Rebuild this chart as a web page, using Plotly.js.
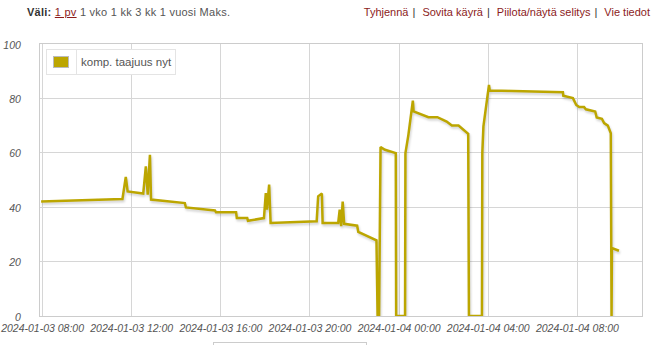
<!DOCTYPE html>
<html>
<head>
<meta charset="utf-8">
<script src="https://cdn.plot.ly/plotly-3.0.1.min.js"></script>
<style>
  html, body { margin:0; padding:0; background:#fff; }
  body { width:668px; height:345px; position:relative; overflow:hidden; font-family:"Liberation Sans", Arial, sans-serif; }
  #chart { position:absolute; left:0; top:0; width:668px; height:345px; }
  .hdr { position:absolute; top:5px; font-size:11px; line-height:14px; white-space:nowrap; }
  #hl { left:27px; color:#555; letter-spacing:0.25px; }
  #hl b { color:#333; }
  #hl u { color:#8c1c1c; }
  #hr { right:18px; color:#8c1c1c; }
  #hr span.sep { color:#333; margin:0 4px; }
  #legend { position:absolute; left:46px; top:49px; width:130px; height:26px; border:1px solid #e4e4e4; background:#fff; box-sizing:border-box; }
  #legend .sw { position:absolute; left:6px; top:6px; width:16px; height:12px; background:#BCA600; border:1px solid #bbb; box-sizing:border-box; }
  #legend .div { position:absolute; left:29px; top:0; width:1px; height:24px; background:#e4e4e4; }
  #legend .tx { position:absolute; left:34px; top:5px; font-size:11.5px; color:#555; line-height:14px; }
  #bot { position:absolute; left:213px; top:342px; width:154px; height:10px; border:1px solid #ccc; box-sizing:border-box; }
  .scatterlayer path.js-line { filter: drop-shadow(1px 2px 1px rgba(0,0,0,0.18)); }
</style>
</head>
<body>
<div id="chart"></div>
<div class="hdr" id="hl"><b>Väli:</b> <u>1 pv</u> 1 vko 1 kk 3 kk 1 vuosi Maks.</div>
<div class="hdr" id="hr">Tyhjennä<span class="sep">|</span> Sovita käyrä<span class="sep">|</span> Piilota/näytä selitys<span class="sep">|</span> Vie tiedot</div>
<div id="legend"><div class="sw"></div><div class="div"></div><div class="tx" id="legtx"></div></div>
<div id="bot"></div>
<script>
const seriesName = "komp. taajuus nyt";
const times = [
  "2024-01-03 07:56","2024-01-03 11:35","2024-01-03 11:44","2024-01-03 11:49","2024-01-03 12:31",
  "2024-01-03 12:38","2024-01-03 12:43","2024-01-03 12:49","2024-01-03 12:52","2024-01-03 14:23",
  "2024-01-03 14:26","2024-01-03 15:44","2024-01-03 15:47","2024-01-03 16:41","2024-01-03 16:43",
  "2024-01-03 17:11","2024-01-03 17:13","2024-01-03 17:56","2024-01-03 18:01","2024-01-03 18:04",
  "2024-01-03 18:10","2024-01-03 18:14","2024-01-03 20:18","2024-01-03 20:22","2024-01-03 20:32",
  "2024-01-03 20:34","2024-01-03 21:16","2024-01-03 21:20","2024-01-03 21:24","2024-01-03 21:28",
  "2024-01-03 21:32","2024-01-03 22:07","2024-01-03 22:10","2024-01-03 22:59","2024-01-03 23:02",
  "2024-01-03 23:06","2024-01-03 23:10","2024-01-03 23:22","2024-01-03 23:51","2024-01-03 23:52",
  "2024-01-04 00:16","2024-01-04 00:17","2024-01-04 00:25","2024-01-04 00:37","2024-01-04 00:39",
  "2024-01-04 01:19","2024-01-04 01:43","2024-01-04 02:08","2024-01-04 02:22","2024-01-04 02:40",
  "2024-01-04 03:06","2024-01-04 03:08","2024-01-04 03:43","2024-01-04 03:44","2024-01-04 03:47",
  "2024-01-04 04:02","2024-01-04 04:04","2024-01-04 07:21","2024-01-04 07:22","2024-01-04 07:48",
  "2024-01-04 07:57","2024-01-04 08:05","2024-01-04 08:18","2024-01-04 08:23","2024-01-04 08:48",
  "2024-01-04 08:52","2024-01-04 09:06","2024-01-04 09:12","2024-01-04 09:22","2024-01-04 09:30",
  "2024-01-04 09:32","2024-01-04 09:33","2024-01-04 09:52"
];
const values = [
  42.1,43.0,51.1,45.8,45.0,
  55.0,44.6,59.3,42.8,41.5,
  39.9,38.8,38.1,38.1,36.0,
  36.0,35.0,36.0,45.2,39.1,
  48.3,34.2,34.8,44.0,45.0,
  34.2,34.2,39.1,33.0,42.1,
  33.9,33.2,30.9,27.8,0,
  0,62.1,61.1,59.9,0,
  0,59.9,66.6,79.2,75.2,
  73.1,73.1,71.5,70.0,70.0,
  67.0,0,0,59.9,69.7,
  85.0,82.9,82.3,81.0,80.1,
  77.6,76.8,76.8,76.0,75.2,
  73.0,72.5,70.9,70.0,67.2,
  0,25.0,24.0
];
const xRange = ["2024-01-03 07:53","2024-01-04 10:54"];
const yRange = [0,100];

document.getElementById('legtx').textContent = seriesName;

const lineColor = "#BCA600";
const tickFont = {family:"Liberation Sans, Arial, sans-serif", size:10.5, color:"#555", style:"italic"};

Plotly.newPlot('chart', [{
  x: times, y: values, type:'scatter', mode:'lines', name: seriesName,
  line:{color:lineColor, width:2.5}, hoverinfo:'skip'
}], {
  width:668, height:345,
  margin:{l:40, r:26, t:44, b:28.5, pad:0},
  paper_bgcolor:'#fff', plot_bgcolor:'#fff',
  showlegend:false,
  xaxis:{
    type:'date', range:xRange,
    tick0:"2024-01-03 08:00", dtick:4*3600*1000,
    tickformat:"%Y-%m-%d %H:%M",
    showgrid:true, gridcolor:'#d6d6d6', gridwidth:1,
    showline:true, linecolor:'#cccccc', linewidth:1, mirror:true,
    zeroline:false, ticks:'', ticklabelstandoff:2, tickfont:tickFont, fixedrange:true
  },
  yaxis:{
    range:yRange, dtick:20, tick0:0,
    showgrid:true, gridcolor:'#d6d6d6', gridwidth:1,
    showline:true, linecolor:'#cccccc', linewidth:1, mirror:true,
    zeroline:false, ticks:'', ticklabelstandoff:16, ticklabelshift:1, tickfont:tickFont, fixedrange:true
  }
}, {displayModeBar:false, staticPlot:true});
</script>
</body>
</html>
